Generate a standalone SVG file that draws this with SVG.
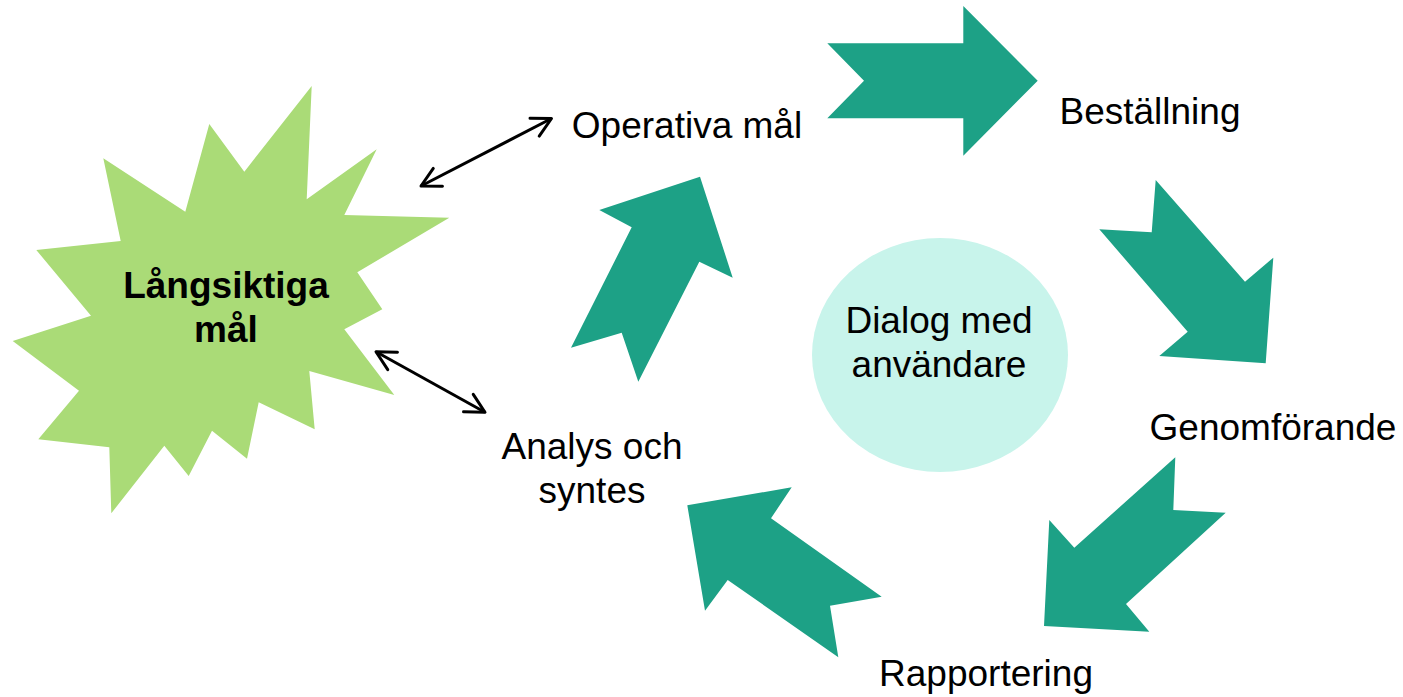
<svg xmlns="http://www.w3.org/2000/svg" width="1403" height="697" viewBox="0 0 1403 697">
<style>
.lbl{font-family:"Liberation Sans",Arial,sans-serif;font-size:37px;fill:#000;text-anchor:middle}
.bold{font-weight:bold}
.arr{fill:#1da186}
.conn{stroke:#000;stroke-width:3;fill:none}
</style>
<defs>
<marker id="head" markerUnits="userSpaceOnUse" orient="auto-start-reverse" refX="0" refY="0" markerWidth="30" markerHeight="30" viewBox="-25 -15 30 30" overflow="visible">
<path d="M-19,-10 L0,0 L-19,10" fill="none" stroke="#000" stroke-width="3" stroke-linecap="round" stroke-linejoin="round"/>
</marker>
</defs>
<rect width="1403" height="697" fill="#fff"/>
<g id="langsiktiga">
<polygon fill="#aadb77" points="311.7,86 306.7,199.3 376.7,149.3 344.3,215 449.3,217.7 357.3,272.3 382.3,309.3 344.3,329.3 394.3,395 309.3,371 314.7,429.3 258.7,402.3 247,458.7 212,430.7 188.7,476 164.3,445.7 111.3,513.3 109.3,447.3 38.3,439.3 79,390.7 12.7,341 91,315.7 36.3,250 120.7,241 103.3,158.3 185.3,211.7 209.3,124 244.3,171.7"/>
<text class="lbl bold" x="226" y="298">Långsiktiga</text>
<text class="lbl bold" x="226" y="342">mål</text>
</g>
<g id="dialog">
<ellipse cx="940" cy="355" rx="128" ry="117" fill="#c8f4eb"/>
<text class="lbl" x="939" y="333">Dialog med</text>
<text class="lbl" x="939" y="377">användare</text>
</g>
<g id="operativa"><text class="lbl" x="687" y="138">Operativa mål</text></g>
<g id="bestallning"><text class="lbl" x="1150" y="124">Beställning</text></g>
<g id="genomforande"><text class="lbl" x="1273" y="440">Genomförande</text></g>
<g id="rapportering"><text class="lbl" x="986" y="686">Rapportering</text></g>
<g id="analys">
<text class="lbl" x="592" y="459">Analys och</text>
<text class="lbl" x="592" y="503">syntes</text>
</g>
<g id="cycle-arrows">
<polygon class="arr" points="827.3,43.3 963.3,43.3 963.3,6 1037.7,80.7 963.3,155.7 963.3,118.3 827.3,118.3 864,80.7"/>
<polygon class="arr" points="1155.7,180 1245,281.7 1273.3,257.7 1265.7,363.3 1159.3,356 1187.7,331.7 1099.3,229.3 1151.7,232.3"/>
<polygon class="arr" points="1175.3,457.3 1173.3,510 1225.7,512.7 1126,604 1149.3,631.7 1044,626 1049.3,520 1074.3,547.7"/>
<polygon class="arr" points="687.3,505.3 791.7,487.3 771,518.3 881.7,596.7 830,605.7 838.3,657.3 727.7,580 705,610.7"/>
<polygon class="arr" points="700,176.7 732.7,277.7 699.3,261.7 638.3,381.7 621.7,332.7 571,347.7 631.7,227.3 599.3,210"/>
</g>
<g id="connectors">
<line class="conn" x1="421" y1="186" x2="551.5" y2="118.5" marker-start="url(#head)" marker-end="url(#head)"/>
<line class="conn" x1="376" y1="351.7" x2="485" y2="412.3" marker-start="url(#head)" marker-end="url(#head)"/>
</g>
</svg>
